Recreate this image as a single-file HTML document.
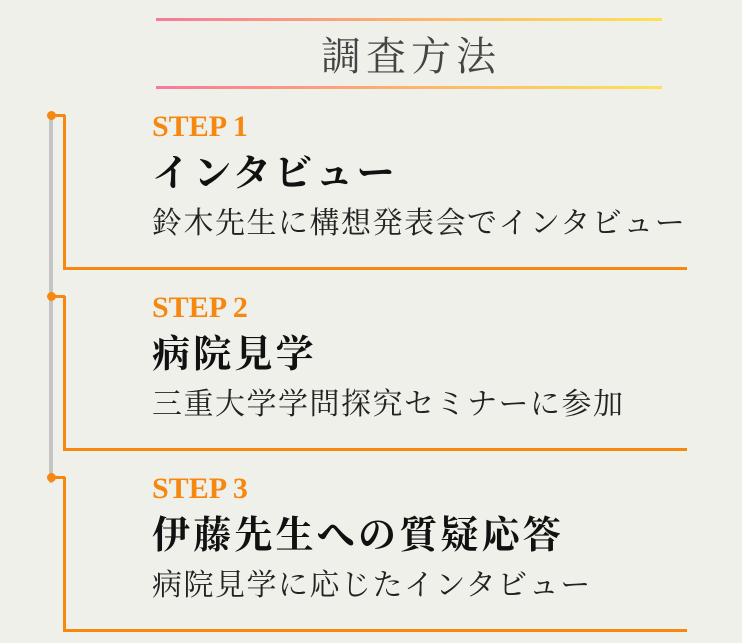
<!DOCTYPE html>
<html><head><meta charset="utf-8"><style>
body{margin:0;width:742px;height:643px;background:#f0f0eb;position:relative;overflow:hidden;font-family:"Liberation Serif","Noto Serif CJK SC",serif}
.a{position:absolute;white-space:nowrap;line-height:1}
.line{position:absolute;left:156px;width:506px;height:3px;background:linear-gradient(90deg,#f7799c,#fbb46e,#fde15a)}
.gray{position:absolute;left:49px;width:4px;background:#c4c4c4}
.dot{position:absolute;left:47px;width:9px;height:9px;border-radius:50%;background:#f6870f}
.box{position:absolute;left:63px;width:624px;height:155px;border-left:3px solid #f6870f;border-bottom:3px solid #f6870f;box-sizing:border-box}
.tick{position:absolute;left:55px;width:10px;height:3px;background:#f6870f}
.st,.h,.s{position:absolute;left:152px;white-space:nowrap;line-height:1}
.st{color:#f6870f;font-weight:bold;font-size:30px}
.h{font-weight:bold;font-size:38px;letter-spacing:3.2px;color:#111}
.s{font-size:30px;letter-spacing:1.5px;color:#222}
</style></head><body>
<div class="line" style="top:18px"></div>
<div class="line" style="top:86px"></div>
<div class="a" style="left:321px;top:37px;font-size:40px;letter-spacing:5px;color:#444">調査方法</div>
<div class="gray" style="top:118px;height:365px"></div>

<div class="box" style="top:115px"></div><div class="tick" style="top:114px"></div><div class="dot" style="top:111px"></div>
<div class="st" style="top:112px">STEP 1</div>
<div class="h" style="top:155px">インタビュー</div>
<div class="s" style="top:209px">鈴木先生に構想発表会でインタビュー</div>

<div class="box" style="top:296px"></div><div class="tick" style="top:295px"></div><div class="dot" style="top:292px"></div>
<div class="st" style="top:293px">STEP 2</div>
<div class="h" style="top:336px">病院見学</div>
<div class="s" style="top:390px">三重大学学問探究セミナーに参加</div>

<div class="box" style="top:477px"></div><div class="tick" style="top:476px"></div><div class="dot" style="top:473px"></div>
<div class="st" style="top:474px">STEP 3</div>
<div class="h" style="top:517px">伊藤先生への質疑応答</div>
<div class="s" style="top:571px">病院見学に応じたインタビュー</div>
</body></html>
